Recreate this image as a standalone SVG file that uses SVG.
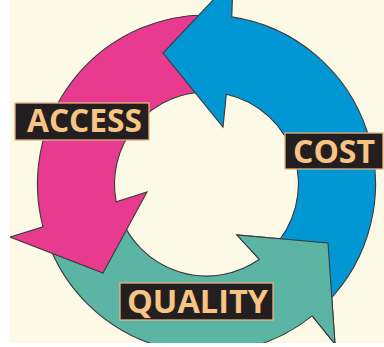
<svg xmlns="http://www.w3.org/2000/svg" width="384" height="347" viewBox="0 0 384 347">
  <style>
    .arrow { stroke: #3a3a3a; stroke-width: 1.1; stroke-linejoin: miter; }
    .pink { fill: #E83A8E; }
    .blue { fill: #0097D4; }
    .teal { fill: #5CB4A5; }
    .edge { fill: none; stroke: #3a3a3a; stroke-width: 1.1; }
    .box { fill: #231F20; stroke: #E8B27E; stroke-width: 1.3; }
    .lbl { font-family: "Open Sans", "Noto Sans", "Liberation Sans", sans-serif; font-weight: 700; font-size: 32px; fill: #F8C484; }
  </style>
  <rect x="0" y="0" width="384" height="347" fill="#FFFFFF"/>
  <rect x="10" y="0" width="374" height="343" fill="#FCFAE7"/>

  <g id="connectors">
    <path id="arrow-teal" class="arrow teal" d="M47.7,241.8 A169,169 0 0 0 312.2,315.9 L335,344 L328,243 L237,235 L259.4,259.3 A92,92 0 0 1 120,215.5 Z"/>
    <path id="arrow-pink" class="arrow pink" d="M212.4,15.1 A169,169 0 0 0 43,226.9 L10,237 L103,273 L147,192 L116.2,201.7 A92,92 0 0 1 209.7,92.1 Z"/>
    <path id="arrow-blue" class="arrow blue" d="M231.8,16.9 A169,169 0 0 1 326,303.5 L271.5,249 A92,92 0 0 0 226.3,94.2 L223,127 L163,53 L233,-21 Z"/>
    <path id="teal-head" class="teal" d="M312.2,315.9 L335,344 L328,243 L237,235 L259.4,259.3 Z"/>
    <path class="edge" d="M312.2,315.9 L335,344 L328,243 L237,235 L259.4,259.3"/>
  </g>

  <rect x="0" y="0" width="10" height="347" fill="#FFFFFF"/>
  <rect x="0" y="343" width="384" height="4" fill="#FFFFFF"/>

  <g id="access">
    <rect class="box" x="15" y="103" width="134" height="37"/>
    <text class="lbl" x="27" y="132" textLength="115" lengthAdjust="spacingAndGlyphs">ACCESS</text>
  </g>
  <g id="cost">
    <rect class="box" x="285" y="133" width="98" height="36"/>
    <text class="lbl" x="293" y="163" textLength="82" lengthAdjust="spacingAndGlyphs">COST</text>
  </g>
  <g id="quality">
    <rect class="box" x="120" y="283" width="153" height="37"/>
    <text class="lbl" x="127" y="313" textLength="141" lengthAdjust="spacingAndGlyphs">QUALITY</text>
  </g>
</svg>
